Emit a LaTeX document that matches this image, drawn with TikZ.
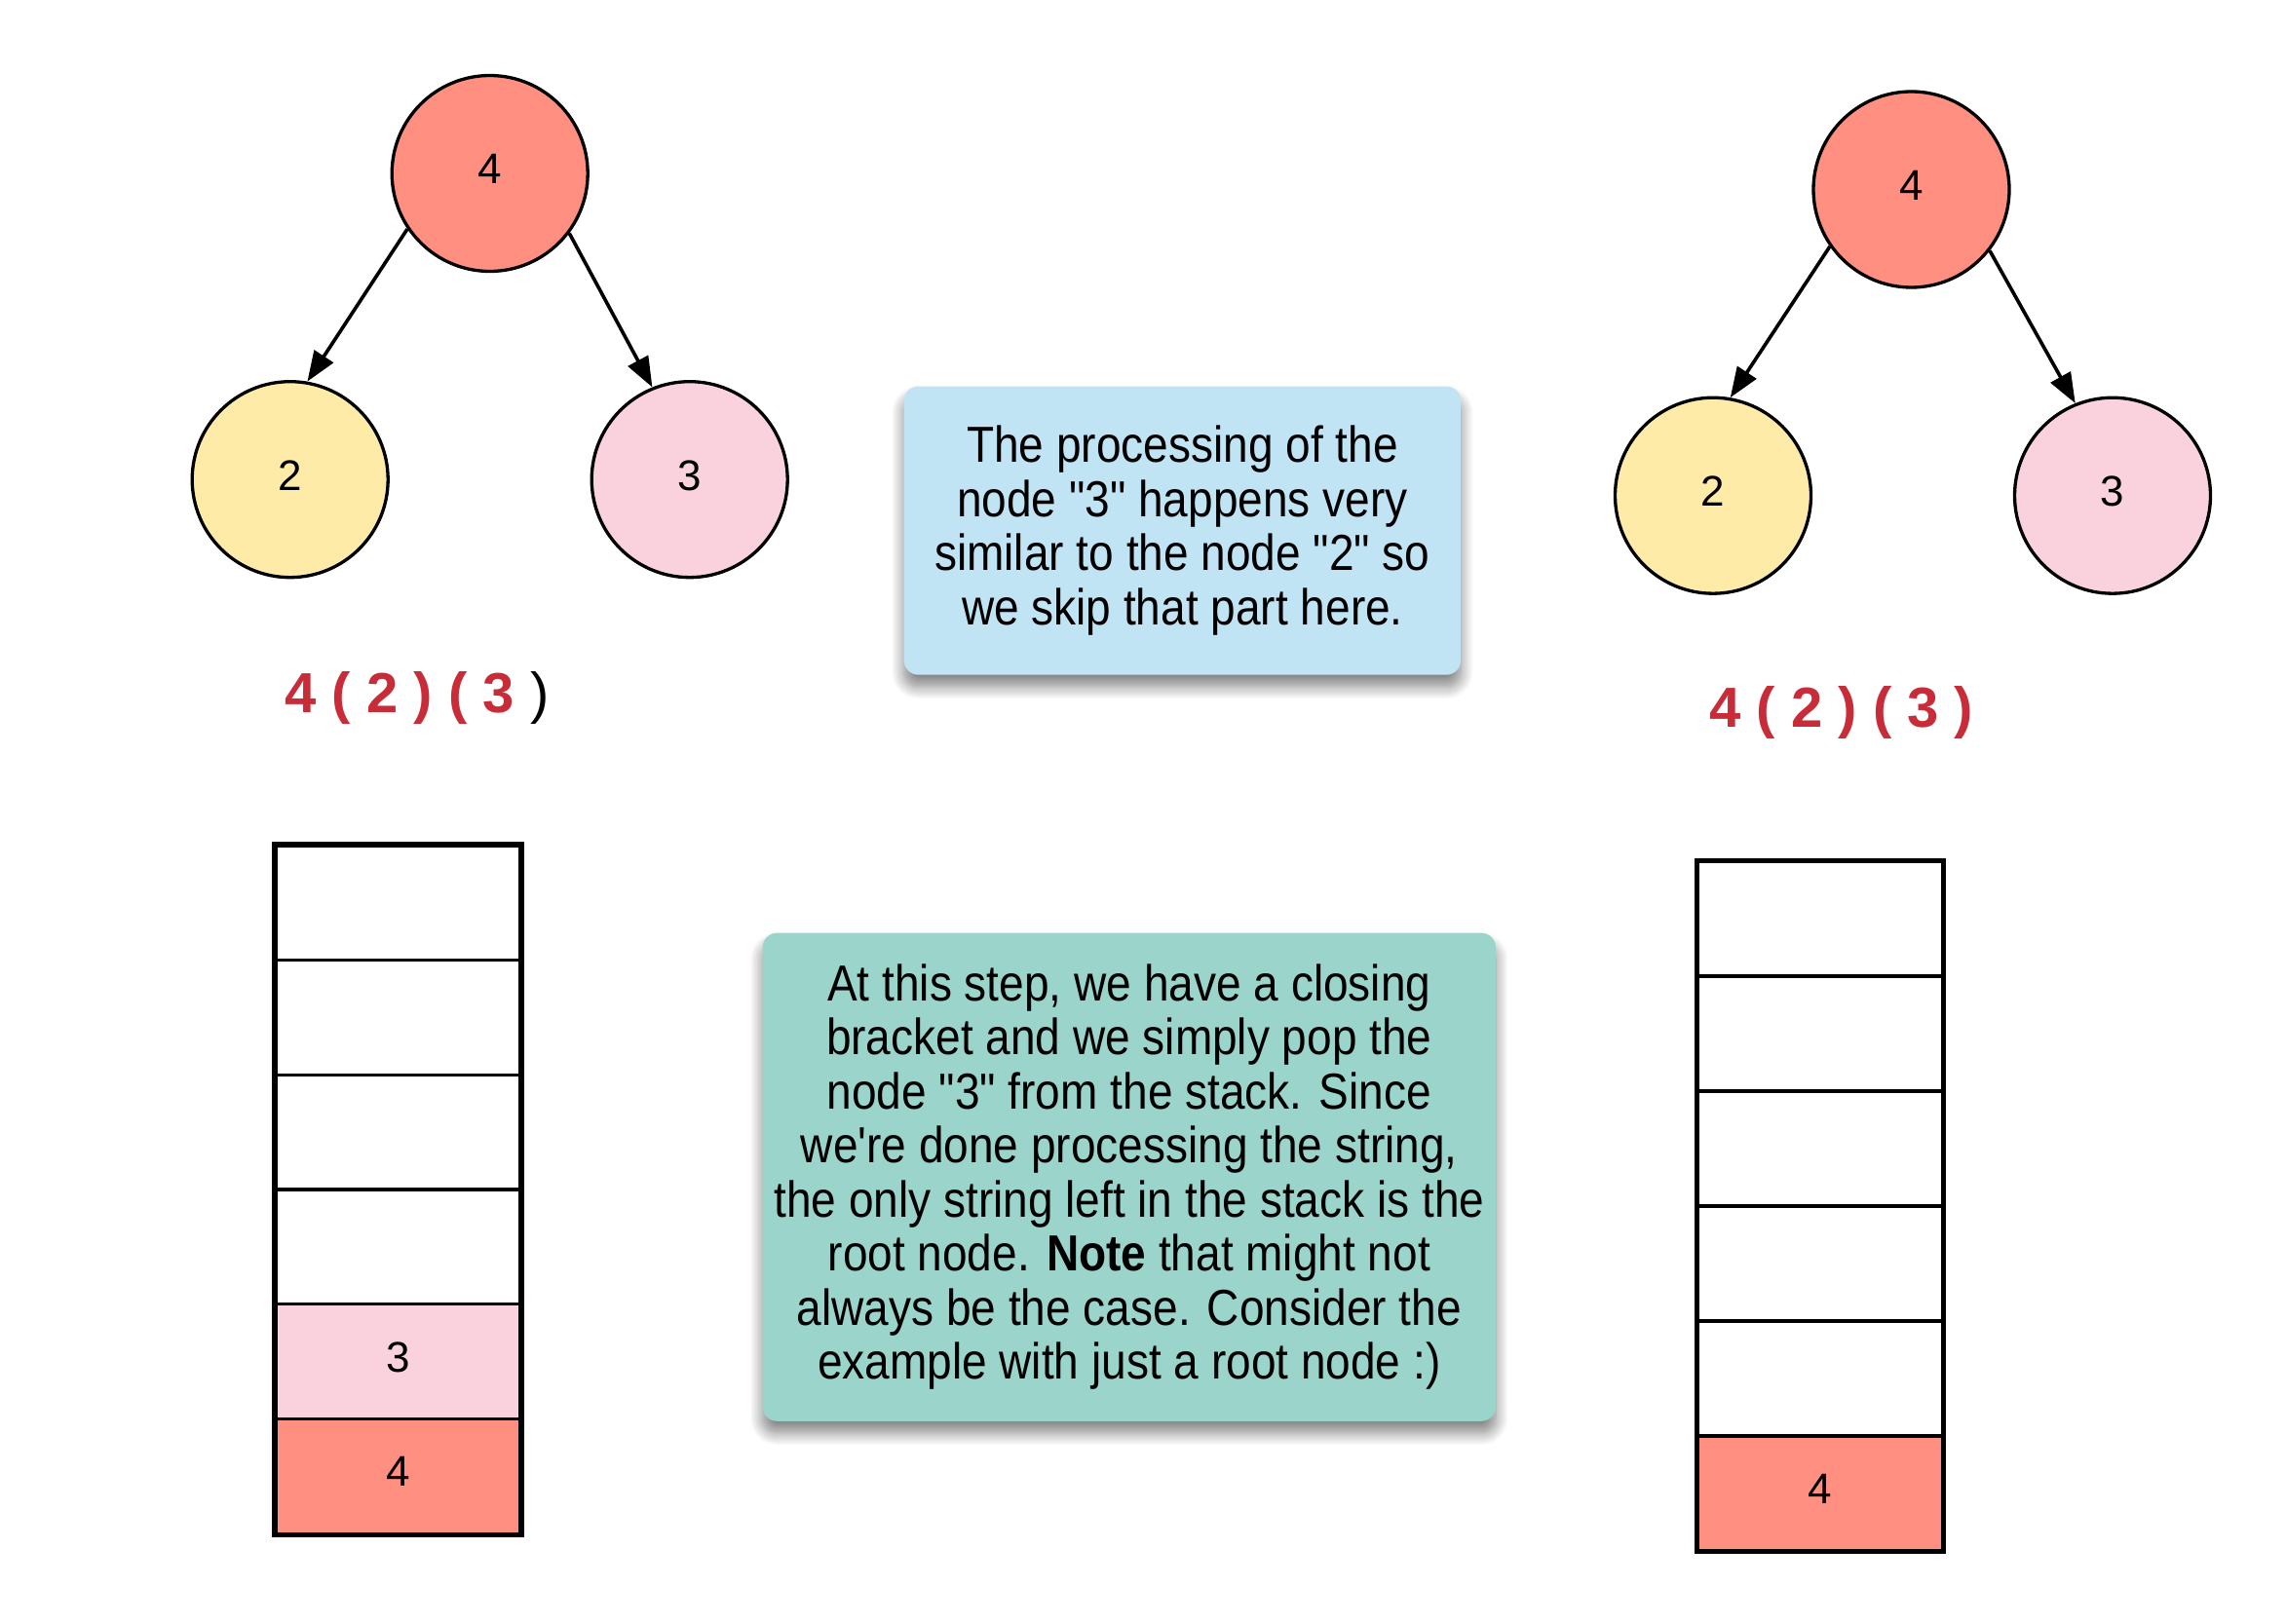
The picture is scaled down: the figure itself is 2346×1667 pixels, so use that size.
\documentclass[tikz,border=0pt]{standalone}
\usepackage{fontspec}
\setmainfont{Liberation Sans}
\newfontfamily\boxfont[FakeStretch=0.885,Ligatures=TeXOff]{Liberation Sans}
\usetikzlibrary{arrows.meta,shadows.blur}
\definecolor{salmon}{RGB}{255,143,128}
\definecolor{lyellow}{RGB}{255,235,168}
\definecolor{lpink}{RGB}{249,210,222}
\definecolor{lblue}{RGB}{193,228,245}
\definecolor{lgreen}{RGB}{154,212,203}
\definecolor{redc}{RGB}{201,44,57}
\newcommand{\up}[1]{\raisebox{9pt}{#1}}
\tikzset{
  treenode/.style={circle, draw, line width=3.3pt, minimum size=201pt, inner sep=0pt, font=\fontsize{44}{44}\selectfont},
  treeedge/.style={-{Triangle[length=31pt,width=23pt]}, line width=3.6pt},
  cell/.style={rectangle, draw, line width=3.3pt, minimum width=251pt, minimum height=117.7pt, inner sep=0pt, font=\fontsize{44}{44}\selectfont},
  redlabel/.style={text=redc, font=\fontsize{58}{58}\selectfont\bfseries},
  infobox/.style={rounded corners=15pt, align=center, inner sep=0pt, font=\boxfont\fontsize{52}{55.5}\selectfont,
    blur shadow={shadow xshift=0pt, shadow yshift=-12pt, shadow blur steps=14, shadow blur radius=13pt, shadow opacity=50}}
}
\begin{document}
\begin{tikzpicture}[x=1pt,y=-1pt]
\useasboundingbox (0,0) rectangle (2346,1667);

% left tree
\node[treenode, fill=salmon] (lr) at (502.7,178) {\up{4}};
\node[treenode, fill=lyellow] (l2) at (297.7,492.2) {\up{2}};
\node[treenode, fill=lpink] (l3) at (707.7,492.2) {\up{3}};
\draw[treeedge] (lr.214) -- (l2.80);
\draw[treeedge] (lr.323) -- (l3.112);
\node[redlabel] (llab) at (428,716) {4 ( 2 ) ( 3 \textcolor{black}{\mdseries )}};

% right tree
\node[treenode, fill=salmon] (rr) at (1961.5,194.5) {\up{4}};
\node[treenode, fill=lyellow] (r2) at (1758,508.7) {\up{2}};
\node[treenode, fill=lpink] (r3) at (2168,508.7) {\up{3}};
\draw[treeedge] (rr.215) -- (r2.80);
\draw[treeedge] (rr.322) -- (r3.112);
\node[redlabel] (rlab) at (1890,731) {4 ( 2 ) ( 3 )};

% left stack
\node[cell, fill=white] (ls1) at (408.5,926.8) {};
\node[cell, fill=white] (ls2) at (408.5,1044.5) {};
\node[cell, fill=white] (ls3) at (408.5,1162.2) {};
\node[cell, fill=white] (ls4) at (408.5,1279.9) {};
\node[cell, fill=lpink] (ls5) at (408.5,1397.6) {\up{3}};
\node[cell, fill=salmon] (ls6) at (408.5,1515.3) {\up{4}};
\draw[line width=3.8pt] (ls1.north west) rectangle (ls6.south east);

% right stack
\node[cell, fill=white] (rs1) at (1868,943) {};
\node[cell, fill=white] (rs2) at (1868,1061) {};
\node[cell, fill=white] (rs3) at (1868,1179) {};
\node[cell, fill=white] (rs4) at (1868,1297) {};
\node[cell, fill=white] (rs5) at (1868,1415) {};
\node[cell, fill=salmon] (rs6) at (1868,1533) {\up{4}};
\draw[line width=3.8pt] (rs1.north west) rectangle (rs6.south east);

% info boxes
\node[infobox, fill=lblue, minimum width=571.6pt, minimum height=296.2pt] (bbox) at (1213.4,544.6)
  {The processing of the\\node "3" happens very\\similar to the node "2" so\\we skip that part here.};
\node[infobox, fill=lgreen, minimum width=752.5pt, minimum height=501.2pt] (gbox) at (1158.8,1208.2)
  {At this step, we have a closing\\bracket and we simply pop the\\node "3" from the stack. Since\\we're done processing the string,\\the only string left in the stack is the\\root node. \textbf{Note} that might not\\always be the case. Consider the\\example with just a root node :)};
\end{tikzpicture}
\end{document}
